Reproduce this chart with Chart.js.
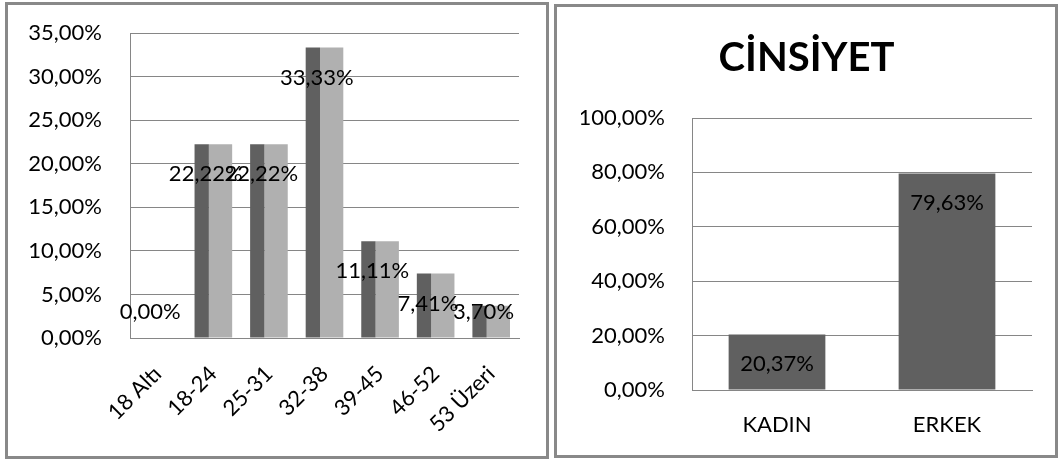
<!DOCTYPE html>
<html>
<head>
<meta charset="utf-8">
<script src="https://cdn.jsdelivr.net/npm/chart.js@4"></script>
<style>
    body { margin: 0; background: #fff; }
    .box { position: absolute; border: 3px solid #898989; }
    #ageBox { left: 5px; top: 2px; width: 538px; height: 451px; }
    #genderBox { left: 554px; top: 4px; width: 498px; height: 448px; }
    canvas { display: block; }
</style>
</head>
<body>
<div class="box" id="ageBox"><canvas id="ageChart" width="538" height="451"></canvas></div>
<div class="box" id="genderBox"><canvas id="genderChart" width="498" height="448"></canvas></div>
<script>
    // age groups (two identical series in the original sheet)
    const ageLabels = ['18 Altı', '18-24', '25-31', '32-38', '39-45', '46-52', '53 Üzeri'];
    const ageSeriesA = [0, 22.22, 22.22, 33.33, 11.11, 7.41, 3.70];
    const ageSeriesB = [0, 22.22, 22.22, 33.33, 11.11, 7.41, 3.70];
    const ageAxisMax = 35;
    const ageAxisStep = 5;

    // gender
    const genderTitle = 'CİNSİYET';
    const genderLabels = ['KADIN', 'ERKEK'];
    const genderValues = [20.37, 79.63];
    const genderAxisMax = 100;
    const genderAxisStep = 20;

    Chart.defaults.font.family = 'Lato';
    Chart.defaults.color = '#000';

    const pct = function (v) {
        return Number(v).toFixed(2).replace('.', ',') + '%';
    };

    /**
     * value labels drawn inside the top of each bar
     */
    const barValueLabels = {
        id: 'barValueLabels',
        afterDatasetsDraw(chart, args, opts) {
            const idx = opts.datasetIndex || 0;
            const meta = chart.getDatasetMeta(idx);
            const values = chart.data.datasets[idx].data;
            const ctx = chart.ctx;
            ctx.save();
            ctx.font = opts.labelFont;
            ctx.fillStyle = '#000';
            ctx.textAlign = 'center';
            ctx.textBaseline = 'middle';
            meta.data.forEach(function (bar, i) {
                const y = Math.min(bar.y + opts.dy, bar.base - opts.minLift);
                ctx.fillText(pct(values[i]), bar.x + opts.dx, y);
            });
            ctx.restore();
        }
    };

    const gridColor = '#868686';
    const tickFont = { family: 'Lato', size: 22 };

    new Chart(document.getElementById('ageChart'), {
        type: 'bar',
        data: {
            labels: ageLabels,
            datasets: [
                { data: ageSeriesA, backgroundColor: '#606060', categoryPercentage: 0.839, barPercentage: 0.614 },
                { data: ageSeriesB, backgroundColor: '#b0b0b0', categoryPercentage: 0.515, barPercentage: 1.629 }
            ]
        },
        options: {
            responsive: false,
            animation: false,
            layout: { padding: { top: 28, right: 27, bottom: 0, left: 0 } },
            plugins: {
                legend: { display: false },
                tooltip: { enabled: false },
                barValueLabels: { datasetIndex: 0, labelFont: '22px Lato', dx: 4, dy: 30, minLift: 26 }
            },
            scales: {
                x: {
                    grid: { display: false },
                    border: { color: gridColor },
                    ticks: { font: tickFont, minRotation: 45, maxRotation: 45, autoSkip: false, padding: 15 },
                    afterFit: function (scale) { scale.height = 118; }
                },
                y: {
                    min: 0,
                    max: ageAxisMax,
                    ticks: { stepSize: ageAxisStep, callback: pct, font: tickFont, padding: 28 },
                    grid: { color: gridColor, drawTicks: false },
                    border: { color: gridColor },
                    afterFit: function (scale) {
                        scale.width = 122;
                        scale.paddingTop = 13;
                        scale.paddingBottom = 13;
                    }
                }
            }
        },
        plugins: [barValueLabels]
    });

    new Chart(document.getElementById('genderChart'), {
        type: 'bar',
        data: {
            labels: genderLabels,
            datasets: [
                { data: genderValues, backgroundColor: '#606060', categoryPercentage: 1, barPercentage: 0.569 }
            ]
        },
        options: {
            responsive: false,
            animation: false,
            layout: { padding: { top: 0, right: 23, bottom: 0, left: 24 } },
            plugins: {
                legend: { display: false },
                tooltip: { enabled: false },
                title: {
                    display: true,
                    text: genderTitle,
                    font: { family: 'Lato', size: 40, weight: 'bold' },
                    padding: { top: 27, bottom: 36 }
                },
                barValueLabels: { datasetIndex: 0, labelFont: '22px Lato', dx: 0, dy: 29, minLift: 0 }
            },
            scales: {
                x: {
                    grid: { display: false },
                    border: { color: gridColor },
                    ticks: { font: tickFont, padding: 14 },
                    afterFit: function (scale) { scale.height = 65; }
                },
                y: {
                    min: 0,
                    max: genderAxisMax,
                    ticks: { stepSize: genderAxisStep, callback: pct, font: tickFont, padding: 27 },
                    grid: { color: gridColor, drawTicks: false },
                    border: { color: gridColor },
                    afterFit: function (scale) { scale.width = 111; }
                }
            }
        },
        plugins: [barValueLabels]
    });
</script>
</body>
</html>
